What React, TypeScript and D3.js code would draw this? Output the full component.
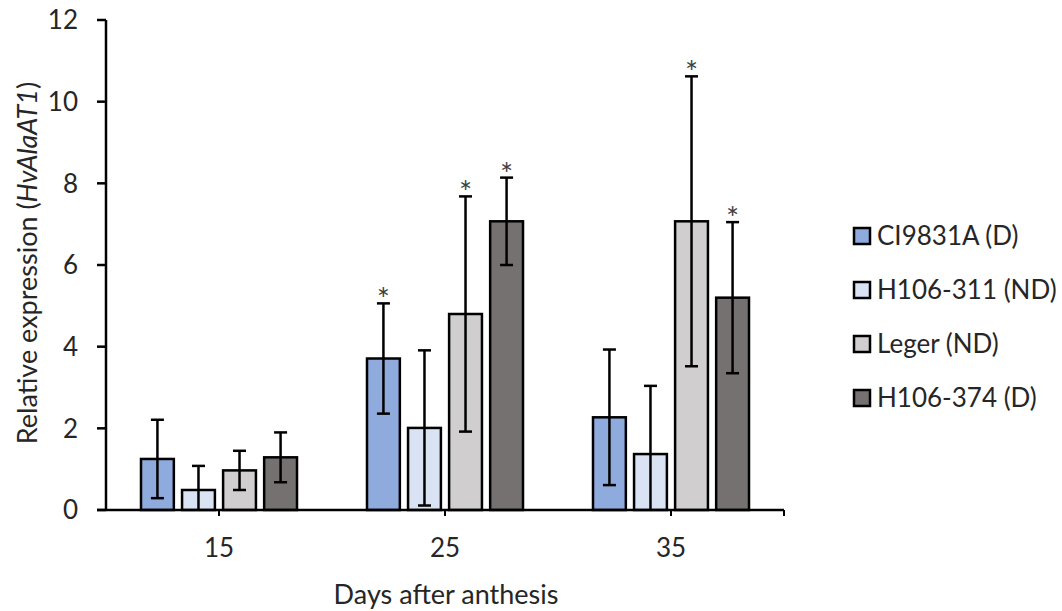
import React from 'react'
import { scaleBand, scaleLinear } from 'd3'

const days = ['15', '25', '35']
const lines = ['CI9831A (D)', 'H106-311 (ND)', 'Leger (ND)', 'H106-374 (D)']
const colors = ['#8FAADC', '#DAE3F3', '#D0CECE', '#767171']

const ci9831a = [1.25, 3.71, 2.27]
const ci9831aErr = [0.96, 1.35, 1.66]
const h106311 = [0.49, 2.01, 1.37]
const h106311Err = [0.59, 1.9, 1.67]
const leger = [0.97, 4.8, 7.07]
const legerErr = [0.48, 2.88, 3.55]
const h106374 = [1.29, 7.07, 5.2]
const h106374Err = [0.61, 1.07, 1.85]

const ci9831aSig = [false, true, false]
const h106311Sig = [false, false, false]
const legerSig = [false, true, true]
const h106374Sig = [false, true, true]

const yTicks = [0, 2, 4, 6, 8, 10, 12]

const means = [ci9831a, h106311, leger, h106374]
const errs = [ci9831aErr, h106311Err, legerErr, h106374Err]
const sigs = [ci9831aSig, h106311Sig, legerSig, h106374Sig]

export default function App() {
  const width = 1062
  const height = 611
  const left = 106
  const right = 784
  const top = 20
  const bottom = 510

  const x0 = scaleBand().domain(days).range([left, right])
  const x1 = scaleBand()
    .domain(lines)
    .range([35, x0.bandwidth() - 35])
    .paddingInner(0.2)
  const y = scaleLinear().domain([0, 12]).range([bottom, top])

  const font = 'Lato, "Open Sans", sans-serif'
  const capW = 13
  const textCol = '#262626'

  return (
    <svg
      width={width}
      height={height}
      style={{ position: 'absolute', left: 0, top: 0, background: '#fff' }}
      fontFamily={font}
    >
      {/* bars */}
      {days.map((d, i) => (
        <g key={d} transform={`translate(${x0(d)},0)`}>
          {lines.map((s, k) => {
            const v = means[k][i]
            const e = errs[k][i]
            const bx = x1(s) as number
            const bw = x1.bandwidth()
            const cx = bx + bw / 2
            const hi = v + e
            const lo = v - e
            return (
              <g key={s}>
                <rect
                  x={bx}
                  y={y(v)}
                  width={bw}
                  height={y(0) - y(v)}
                  fill={colors[k]}
                  stroke="#000"
                  strokeWidth={2.5}
                />
                <line x1={cx} x2={cx} y1={y(hi)} y2={y(Math.max(lo, 0))} stroke="#000" strokeWidth={2.5} />
                <line x1={cx - capW / 2} x2={cx + capW / 2} y1={y(hi)} y2={y(hi)} stroke="#000" strokeWidth={2.5} />
                {lo > 0 && (
                  <line x1={cx - capW / 2} x2={cx + capW / 2} y1={y(lo)} y2={y(lo)} stroke="#000" strokeWidth={2.5} />
                )}
                {sigs[k][i] && (
                  <text x={cx} y={y(hi) + 7} textAnchor="middle" fontSize={31} fill="#404040">
                    *
                  </text>
                )}
              </g>
            )
          })}
        </g>
      ))}

      {/* y axis */}
      <line x1={left} x2={left} y1={top} y2={bottom} stroke="#000" strokeWidth={2.5} />
      {yTicks.map(t => (
        <g key={t}>
          <line x1={left - 9} x2={left} y1={y(t)} y2={y(t)} stroke="#000" strokeWidth={2.5} />
          <text x={78} y={y(t)} dy="0.36em" textAnchor="end" fontSize={26} fill={textCol}>
            {t}
          </text>
        </g>
      ))}

      {/* x axis */}
      <line x1={left - 9} x2={right} y1={bottom} y2={bottom} stroke="#000" strokeWidth={2.5} />
      {days.map(d => {
        const cx = (x0(d) as number) + x0.bandwidth() / 2
        return (
          <g key={d}>
            <line x1={cx} x2={cx} y1={bottom} y2={bottom + 6} stroke="#000" strokeWidth={2} />
            <text x={cx} y={557} textAnchor="middle" fontSize={26} fill={textCol}>
              {d}
            </text>
          </g>
        )
      })}
      <line x1={right} x2={right} y1={bottom} y2={bottom + 6} stroke="#000" strokeWidth={2} />

      {/* axis titles */}
      <text x={446} y={604} textAnchor="middle" fontSize={27} fill={textCol}>
        Days after anthesis
      </text>
      <text
        transform={`translate(37,${263}) rotate(-90)`}
        textAnchor="middle"
        fontSize={27}
        fill={textCol}
      >
        Relative expression (<tspan fontStyle="italic">HvAlaAT1</tspan>)
      </text>

      {/* legend */}
      {lines.map((s, k) => {
        const ly = 236 + k * 54
        return (
          <g key={s}>
            <rect x={854} y={ly - 8} width={16} height={16} fill={colors[k]} stroke="#000" strokeWidth={2.5} />
            <text x={877} y={ly} dy="0.36em" fontSize={26} fill={textCol}>
              {s}
            </text>
          </g>
        )
      })}
    </svg>
  )
}
